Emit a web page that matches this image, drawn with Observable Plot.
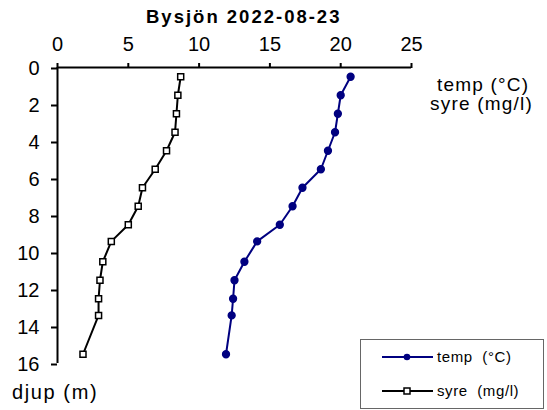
<!DOCTYPE html>
<html>
<head>
<meta charset="utf-8">
<script src="https://cdn.jsdelivr.net/npm/d3@7"></script>
<script src="https://cdn.jsdelivr.net/npm/@observablehq/plot@0.6"></script>
<style>
  html, body { margin: 0; padding: 0; background: #fff; }
  #wrap { position: relative; width: 547px; height: 410px; font-family: "Liberation Sans", Arial, sans-serif; color: #000; }
  #wrap svg { position: absolute; left: 0; top: 0; }
  .lbl { position: absolute; white-space: nowrap; line-height: 1; }
</style>
</head>
<body>
<div id="wrap"></div>
<script>
const title = "Bysjön 2022-08-23";
const depths = [0.5, 1.5, 2.5, 3.5, 4.5, 5.5, 6.5, 7.5, 8.5, 9.4, 10.5, 11.5, 12.5, 13.4, 15.5];
const tempValues = [20.7, 20.0, 19.8, 19.6, 19.1, 18.6, 17.3, 16.6, 15.7, 14.1, 13.2, 12.5, 12.4, 12.3, 11.9];
const syreValues = [8.7, 8.5, 8.4, 8.3, 7.7, 6.9, 6.0, 5.7, 5.0, 3.8, 3.2, 3.0, 2.9, 2.9, 1.8];
const xTicks = [0, 5, 10, 15, 20, 25];
const yTicks = [0, 2, 4, 6, 8, 10, 12, 14, 16];
const seriesNames = ["temp  (\u00B0C)", "syre  (mg/l)"];

const temp = depths.map((d, i) => ({depth: d, value: tempValues[i]}));
const syre = depths.map((d, i) => ({depth: d, value: syreValues[i]}));

const navy = "#000080";

const chart = Plot.plot({
  width: 547,
  height: 410,
  marginTop: 67,
  marginLeft: 57,
  marginRight: 136,
  marginBottom: 47,
  style: {fontFamily: "'Liberation Sans', Arial, sans-serif", color: "#000", background: "#fff"},
  x: {domain: [0, 25], axis: null},
  y: {domain: [0, 16], reverse: true, axis: null},
  marks: [
    Plot.axisX({anchor: "top", label: null, ticks: xTicks, tickSize: 5, tickPadding: 12, tickFormat: d => String(d), fontSize: 20, stroke: "#000", strokeWidth: 2}),
    Plot.axisY({anchor: "left", label: null, ticks: yTicks, tickSize: 6, tickPadding: 12, tickFormat: d => String(d), fontSize: 20, dy: 1, stroke: "#000", strokeWidth: 2}),
    Plot.ruleY([0], {stroke: "#000", strokeWidth: 2}),
    Plot.ruleX([0], {stroke: "#000", strokeWidth: 2}),
    Plot.line(temp, {x: "value", y: "depth", stroke: navy, strokeWidth: 2}),
    Plot.dot(temp, {x: "value", y: "depth", fill: navy, stroke: navy, r: 3.4}),
    Plot.line(syre, {x: "value", y: "depth", stroke: "#000", strokeWidth: 2}),
    Plot.dot(syre, {x: "value", y: "depth", symbol: "square", fill: "#fff", stroke: "#000", strokeWidth: 1.5, r: 3.4})
  ]
});

const wrap = document.getElementById("wrap");
wrap.appendChild(chart);

function label(text, css) {
  const el = document.createElement("div");
  el.className = "lbl";
  el.textContent = text;
  Object.assign(el.style, css);
  wrap.appendChild(el);
  return el;
}

label(title, {left: "146px", top: "8px", fontSize: "18.5px", fontWeight: "bold", letterSpacing: "2px"});
label("djup (m)", {left: "12px", top: "382px", fontSize: "20px", letterSpacing: "1.6px"});
label("temp (\u00B0C)", {left: "437px", top: "75px", fontSize: "19px", letterSpacing: "1.2px"});
label("syre (mg/l)", {left: "430px", top: "94px", fontSize: "19px", letterSpacing: "1.2px"});

// legend box
const box = document.createElement("div");
Object.assign(box.style, {position: "absolute", left: "360px", top: "339px", width: "184px", height: "70px", border: "1px solid #666", boxSizing: "border-box", background: "#fff"});
wrap.appendChild(box);

const legSvg = d3.create("svg").attr("width", 547).attr("height", 410).style("position", "absolute").style("left", 0).style("top", 0).style("pointer-events", "none");
const legItems = [
  {name: seriesNames[0], color: navy, sym: "circle", y: 357},
  {name: seriesNames[1], color: "#000", sym: "square", y: 391}
];
for (const it of legItems) {
  legSvg.append("line").attr("x1", 382).attr("x2", 433).attr("y1", it.y).attr("y2", it.y).attr("stroke", it.color).attr("stroke-width", 2);
  if (it.sym === "circle") {
    legSvg.append("circle").attr("cx", 407).attr("cy", it.y).attr("r", 3.3).attr("fill", it.color);
  } else {
    legSvg.append("rect").attr("x", 404).attr("y", it.y - 3).attr("width", 6).attr("height", 6).attr("fill", "#fff").attr("stroke", "#000").attr("stroke-width", 1.5);
  }
  legSvg.append("text").attr("x", 437).attr("y", it.y + 5).attr("font-family", "'Liberation Sans', Arial, sans-serif").attr("font-size", 15).attr("letter-spacing", 0.6).style("white-space", "pre").text(it.name);
}
wrap.appendChild(legSvg.node());
</script>
</body>
</html>
